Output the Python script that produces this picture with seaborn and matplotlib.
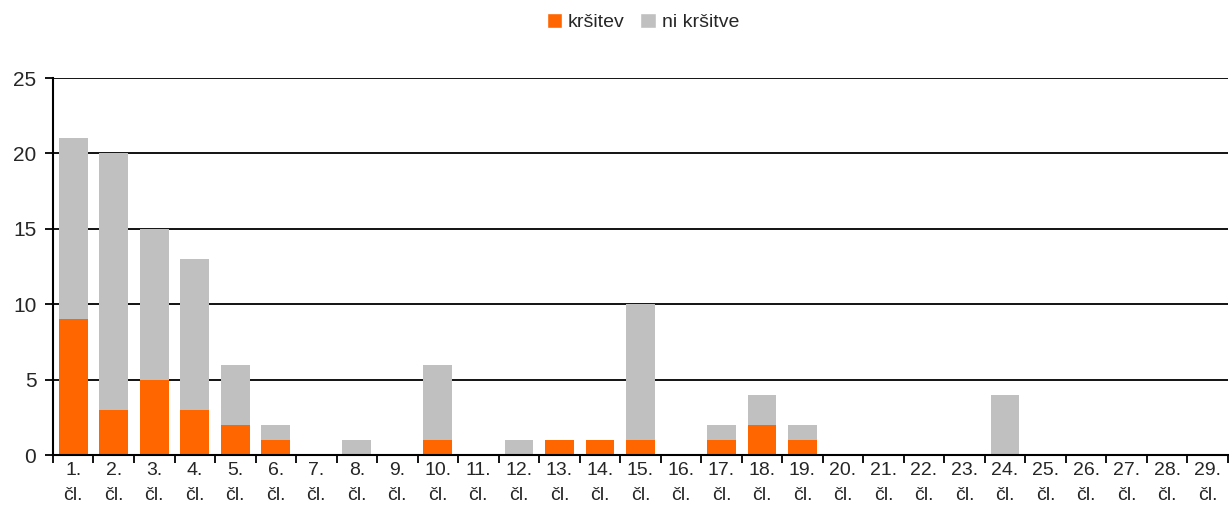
import numpy as np
import pandas as pd
import matplotlib
matplotlib.use("Agg")
import matplotlib.pyplot as plt
import seaborn as sns
from matplotlib.patches import Patch

# podatki po členih
clen = [f"{i}.\nčl." for i in range(1, 30)]
krsitev = [9, 3, 5, 3, 2, 1, 0, 0, 0, 1, 0, 0, 1, 1, 1, 0, 1, 2, 1, 0, 0, 0, 0, 0, 0, 0, 0, 0, 0]
ni_krsitve = [12, 17, 10, 10, 4, 1, 0, 1, 0, 5, 0, 1, 0, 0, 9, 0, 1, 2, 1, 0, 0, 0, 0, 4, 0, 0, 0, 0, 0]

df = pd.DataFrame({"clen": clen, "krsitev": krsitev, "ni_krsitve": ni_krsitve})
df["skupaj"] = df["krsitev"] + df["ni_krsitve"]

sns.set_style("white")
plt.rcParams["font.family"] = ["Liberation Sans", "DejaVu Sans"]

orange = "#FF6600"
grey = "#C0C0C0"

fig = plt.figure(figsize=(12.29, 5.18), dpi=100)
ax = fig.add_axes([0.0431, 0.1216, 0.956, 0.7278])

# stacked: total in grey behind, kršitev orange in front
sns.barplot(data=df, x="clen", y="skupaj", color=grey, width=0.71, saturation=1,
            linewidth=0, ax=ax, zorder=3)
sns.barplot(data=df, x="clen", y="krsitev", color=orange, width=0.71, saturation=1,
            linewidth=0, ax=ax, zorder=4)

ax.set_xlim(-0.5, len(clen) - 0.5)
ax.set_ylim(0, 25)
ax.set_yticks([0, 5, 10, 15, 20, 25])
ax.yaxis.grid(True, color="black", linewidth=1.3, zorder=0)
ax.set_axisbelow(True)
ax.set_xlabel("")
ax.set_ylabel("")

ax.set_xticks(range(len(clen)))
ax.set_xticklabels(clen, linespacing=1.6, fontsize=14)
ax.set_xticks(np.arange(-0.5, len(clen), 1), minor=True)
ax.tick_params(axis="x", which="major", bottom=True, length=0, pad=5)
ax.tick_params(axis="x", which="minor", bottom=True, length=6, width=1.3, color="black", direction="out")
ax.tick_params(axis="y", left=True, length=6, width=1.3, color="black", direction="out", labelsize=15, pad=6)

for s in ["top", "right"]:
    ax.spines[s].set_visible(False)
for s in ["left", "bottom"]:
    ax.spines[s].set_color("black")
    ax.spines[s].set_linewidth(1.5)
    ax.spines[s].set_zorder(5)

handles = [Patch(facecolor=orange, label="kršitev"), Patch(facecolor=grey, label="ni kršitve")]
fig.legend(handles=handles, loc="center", bbox_to_anchor=(0.523, 0.958), ncol=2, frameon=False,
           fontsize=14, handlelength=0.8, handleheight=0.8, handletextpad=0.3, columnspacing=0.8)

fig.savefig("out.png", dpi=100)
